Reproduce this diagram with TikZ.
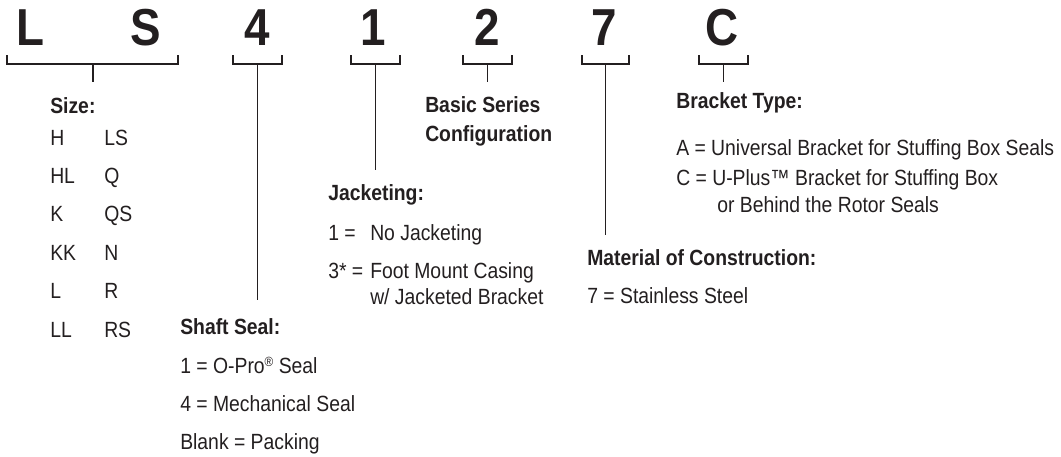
\documentclass[tikz,border=0pt]{standalone}
\usepackage{fontspec}
\setmainfont{Liberation Sans}[FakeStretch=0.88]
\definecolor{ink}{HTML}{231F20}
\newcommand{\regmark}{\raisebox{0.55ex}{\fontsize{10}{10}\selectfont\textregistered}}
\begin{document}
\begin{tikzpicture}[x=0.75pt,y=-0.75pt,
  big/.style={font=\fontsize{39}{39}\selectfont\bfseries, text=ink, inner sep=0pt, anchor=base},
  hdr/.style={font=\fontsize{16.5}{19}\selectfont\bfseries, text=ink, inner sep=0pt, anchor=base west},
  txt/.style={font=\fontsize{16.5}{19}\selectfont, text=ink, inner sep=0pt, anchor=base west},
  brk/.style={draw=ink, line width=1.2pt}]
\useasboundingbox (0,0) rectangle (1061,457);
% code letters
\node[big] (cL) at (30,45) {L};
\node[big] (cS) at (146,45) {S};
\node[big] (c4) at (257.5,45) {4};
\node[big] (c1) at (373,45) {1};
\node[big] (c2) at (487.5,45) {2};
\node[big] (c7) at (604,45) {7};
\node[big] (cC) at (722.5,45) {C};
% brackets
\draw[brk] (7,55) -- (7,64) -- (178,64) -- (178,55);
\draw[brk] (233,55) -- (233,64) -- (282,64) -- (282,55);
\draw[brk] (351,55) -- (351,64) -- (400,64) -- (400,55);
\draw[brk] (463,55) -- (463,64) -- (512,64) -- (512,55);
\draw[brk] (582,55) -- (582,64) -- (629,64) -- (629,55);
\draw[brk] (699,55) -- (699,64) -- (748,64) -- (748,55);
% stem ends
\coordinate (sLS) at (93,64);   \coordinate (eLS) at (93,82);
\coordinate (s4) at (257.5,64); \coordinate (e4) at (257.5,300);
\coordinate (s1) at (375.5,64); \coordinate (e1) at (375.5,170);
\coordinate (s2) at (487.5,64); \coordinate (e2) at (487.5,82);
\coordinate (s7) at (605.5,64); \coordinate (e7) at (605.5,235);
\coordinate (sC) at (723.5,64); \coordinate (eC) at (723.5,82);
\draw[brk] (sLS) -- (eLS);
\draw[brk] (s4) -- (e4);
\draw[brk] (s1) -- (e1);
\draw[brk] (s2) -- (e2);
\draw[brk] (s7) -- (e7);
\draw[brk] (sC) -- (eC);
% Size
\node[hdr] (size) at (50,113) {Size:};
\foreach \a/\b [count=\i from 0] in {H/LS, HL/Q, K/QS, KK/N, L/R, LL/RS}{
  \node[txt] (sa\i) at (50,145+38.4*\i) {\a};
  \node[txt] (sb\i) at (104,145+38.4*\i) {\b};
}
% Shaft Seal
\node[hdr] (shaft) at (180,334) {Shaft Seal:};
\node[txt] (sh1) at (180,373) {1 = O-Pro\regmark\ Seal};
\node[txt] (sh2) at (180,411) {4 = Mechanical Seal};
\node[txt] (sh3) at (180,449) {Blank = Packing};
% Jacketing
\node[hdr] (jack) at (328,200) {Jacketing:};
\node[txt] (j1a) at (328,240) {1 =};
\node[txt] (j1b) at (370,240) {No Jacketing};
\node[txt] (j3a) at (328,278) {3* =};
\node[txt] (j3b) at (370,278) {Foot Mount Casing};
\node[txt] (j3c) at (370,304) {w/ Jacketed Bracket};
% Basic series
\node[hdr] (bs1) at (425,112) {Basic Series};
\node[hdr] (bs2) at (425,141) {Configuration};
% Material
\node[hdr] (mat) at (587,265) {Material of Construction:};
\node[txt] (m7) at (587,303) {7 = Stainless Steel};
% Bracket type
\node[hdr] (bt) at (676,108) {Bracket Type:};
\node[txt] (btA) at (676,155) {A = Universal Bracket for Stuffing Box Seals};
\node[txt] (btC) at (676,185) {C = U-Plus\texttrademark\ Bracket for Stuffing Box};
\node[txt] (btC2) at (717,212) {or Behind the Rotor Seals};
\end{tikzpicture}
\end{document}
